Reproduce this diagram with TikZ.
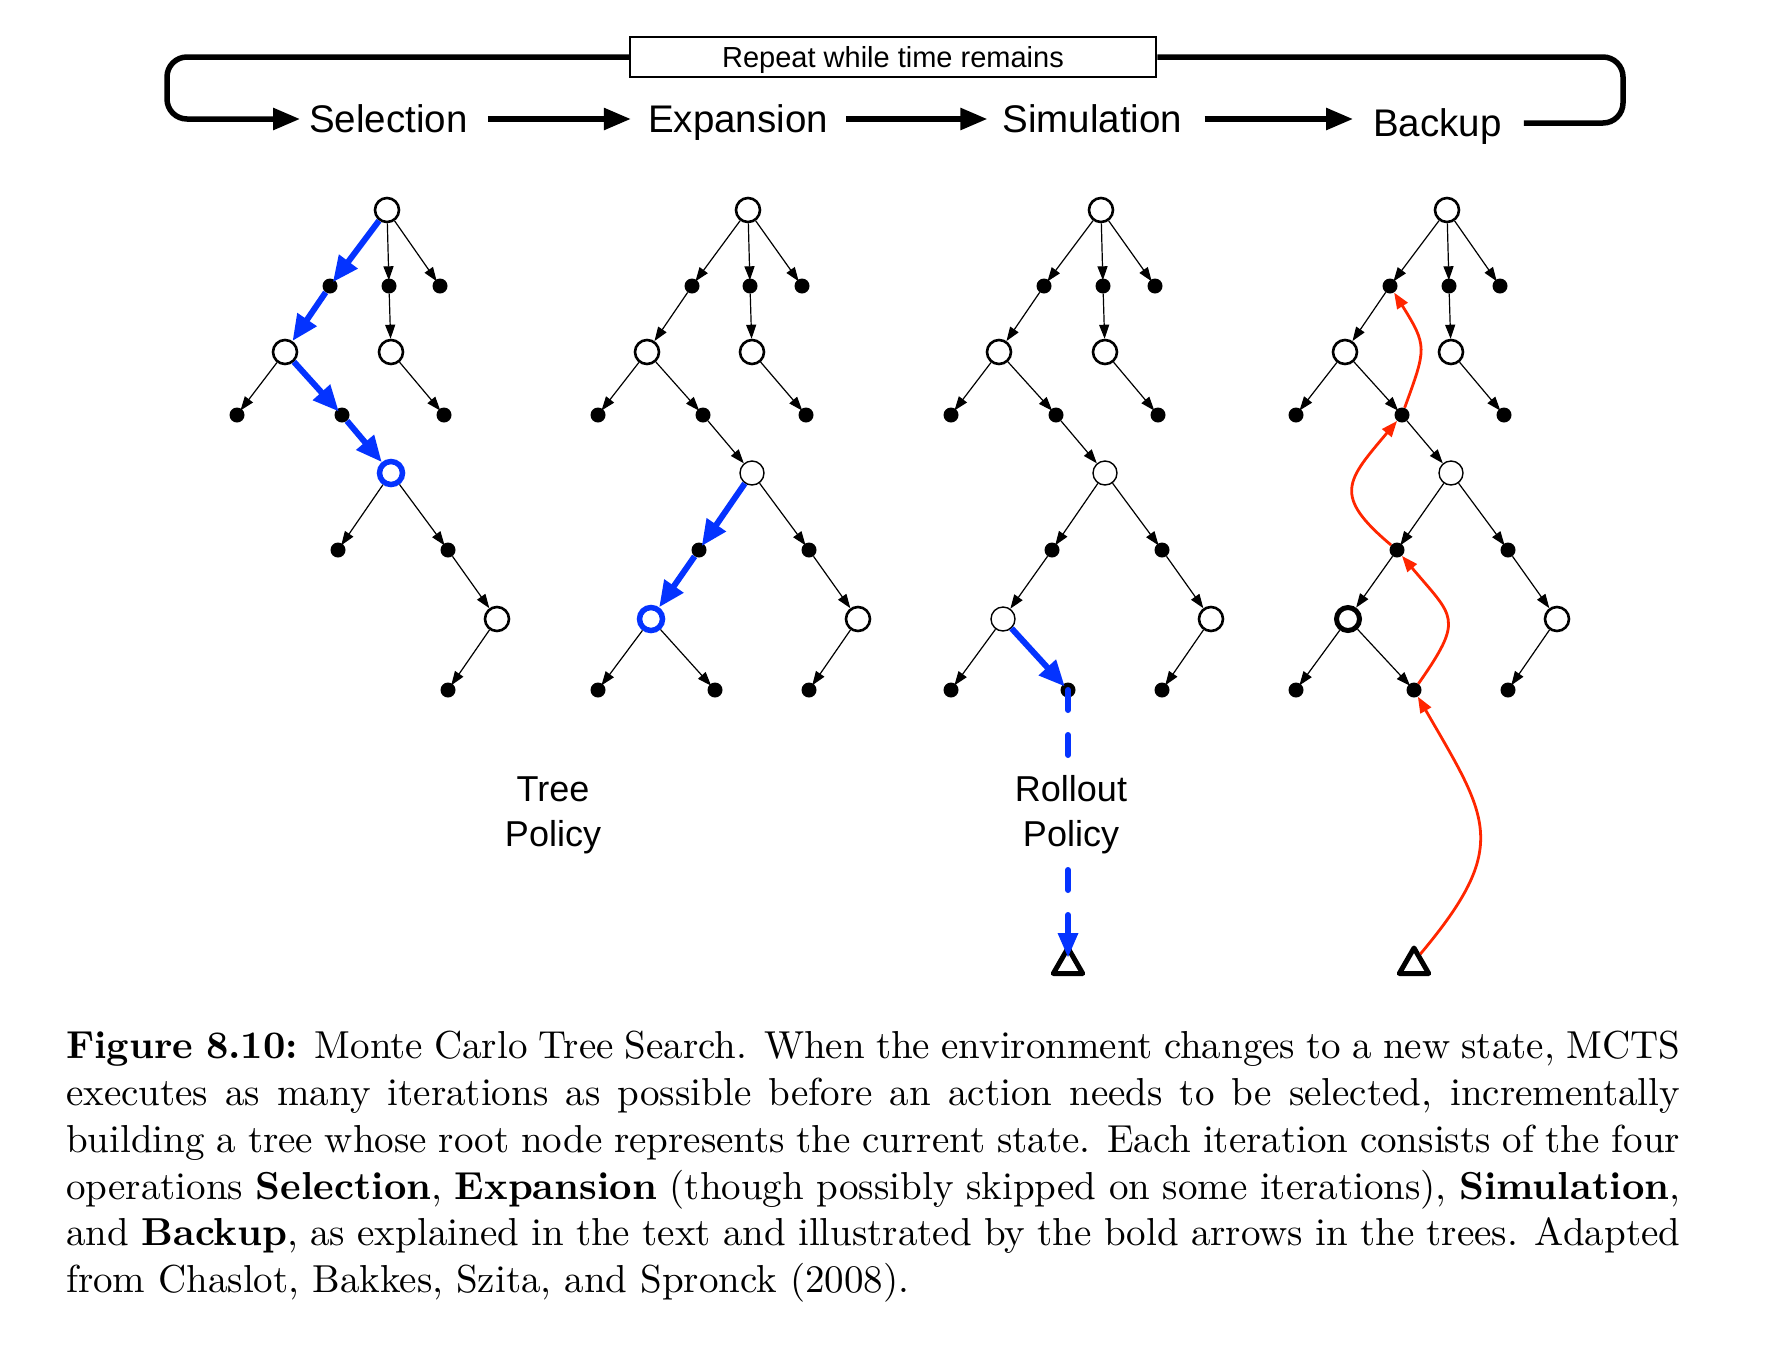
\documentclass[tikz,border=0pt]{standalone}
\usepackage{fontspec}
\usetikzlibrary{arrows.meta,shapes.geometric}
\newfontfamily\lsans{Liberation Sans}
\newfontfamily\capfont{lmroman10-regular.otf}[BoldFont=lmroman10-bold.otf]
\definecolor{mblue}{HTML}{0433FF}
\definecolor{mred}{HTML}{FF2600}
\begin{document}
\begin{tikzpicture}[x=1pt,y=1pt,
  opn/.style={circle,draw,line width=2.6pt,minimum size=24pt,inner sep=0pt,fill=white},
  thn/.style={opn,line width=1.4pt},
  bln/.style={opn,draw=mblue,line width=5.5pt,minimum size=23pt},
  bdn/.style={opn,line width=5pt,minimum size=23pt},
  dtn/.style={circle,fill=black,minimum size=15pt,inner sep=0pt},
  tri/.style={regular polygon,regular polygon sides=3,draw,line width=5pt,line join=round,minimum size=34pt,inner sep=0pt},
  ed/.style={line width=1.2pt,-{Triangle[length=14pt,width=10pt]}},
  edd/.style={ed,shorten >=-2pt},
  bed/.style={draw=mblue,line width=6pt,-{Triangle[length=26pt,width=22pt,fill=mblue]}},
  bedd/.style={bed,shorten >=-3pt},
  rcurve/.style={draw=mred,line width=2.8pt,-{Triangle[length=16pt,width=12pt,fill=mred]}},
  stage/.style={font=\lsans\fontsize{38.5}{46}\selectfont,inner sep=0pt,text height=27.6pt,text depth=0pt},
  topar/.style={line width=5.5pt,-{Triangle[length=27pt,width=21pt]}},
  pol/.style={font=\lsans\fontsize{36}{45}\selectfont,align=center,inner sep=2pt}
]
\fill[white] (0,0) rectangle (1780,-1358);
\path[use as bounding box] (0,0) rectangle (1780,-1358);

% ---------- top loop ----------
\node[draw,line width=2.5pt,fill=white,minimum width=526pt,minimum height=40pt,inner sep=0pt,
      text height=20.8pt,text depth=0pt,
      font=\lsans\fontsize{29}{34}\selectfont] (rep) at (893,-57) {Repeat while time remains};
\node[stage] (sel) at (388.5,-119) {Selection};
\node[stage] (exp) at (738,-119) {Expansion};
\node[stage] (sim) at (1092.5,-119) {Simulation};
\node[stage] (bak) at (1437.5,-123) {Backup};
\coordinate (lt) at (167,-57);
\coordinate (lb) at (167,-119);
\coordinate (rt) at (1623,-57);
\coordinate (rb) at (1623,-123);
\draw[topar,rounded corners=20pt,shorten >=9pt] (rep.west) -- (lt) -- (lb) -- (sel.west);
\draw[line width=5.5pt,rounded corners=20pt,shorten <=22pt] (bak.east) -- (rb) -- (rt) -- (rep.east);
\draw[topar,shorten <=20pt,shorten >=17pt] (sel.east) -- (exp.west);
\draw[topar,shorten <=18pt,shorten >=15pt] (exp.east) -- (sim.west);
\draw[topar,shorten <=22pt,shorten >=20pt] (sim.east) -- (sim.east -| bak.west);

% ---------- tree 1 (Selection) ----------
\node[opn] (A0) at (387,-210) {};
\node[dtn] (A1a) at (330,-286) {};
\node[dtn] (A1b) at (389,-286) {};
\node[dtn] (A1c) at (440,-286) {};
\node[opn] (A2a) at (285,-352) {};
\node[opn] (A2b) at (391,-352) {};
\node[dtn] (A3a) at (237,-415) {};
\node[dtn] (A3b) at (342,-415) {};
\node[dtn] (A3c) at (444,-415) {};
\node[bln] (A4) at (391,-473) {};
\node[dtn] (A5a) at (338,-550) {};
\node[dtn] (A5b) at (448,-550) {};
\node[opn] (A6b) at (497,-619) {};
\node[dtn] (A7c) at (448,-690) {};

% ---------- tree 2 (Expansion) ----------
\node[opn] (B0) at (748,-210) {};
\node[dtn] (B1a) at (692,-286) {};
\node[dtn] (B1b) at (750,-286) {};
\node[dtn] (B1c) at (802,-286) {};
\node[opn] (B2a) at (647,-352) {};
\node[opn] (B2b) at (752,-352) {};
\node[dtn] (B3a) at (598,-415) {};
\node[dtn] (B3b) at (703,-415) {};
\node[dtn] (B3c) at (806,-415) {};
\node[thn] (B4) at (752,-473) {};
\node[dtn] (B5a) at (699,-550) {};
\node[dtn] (B5b) at (809,-550) {};
\node[bln] (B6a) at (651,-619) {};
\node[opn] (B6b) at (858,-619) {};
\node[dtn] (B7a) at (598,-690) {};
\node[dtn] (B7b) at (715,-690) {};
\node[dtn] (B7c) at (809,-690) {};

% ---------- tree 3 (Simulation) ----------
\node[opn] (C0) at (1101,-210) {};
\node[dtn] (C1a) at (1044,-286) {};
\node[dtn] (C1b) at (1103,-286) {};
\node[dtn] (C1c) at (1155,-286) {};
\node[opn] (C2a) at (999,-352) {};
\node[opn] (C2b) at (1105,-352) {};
\node[dtn] (C3a) at (951,-415) {};
\node[dtn] (C3b) at (1056,-415) {};
\node[dtn] (C3c) at (1158,-415) {};
\node[thn] (C4) at (1105,-473) {};
\node[dtn] (C5a) at (1052,-550) {};
\node[dtn] (C5b) at (1162,-550) {};
\node[thn] (C6a) at (1003,-619) {};
\node[opn] (C6b) at (1211,-619) {};
\node[dtn] (C7a) at (951,-690) {};
\node[dtn] (C7b) at (1068,-690) {};
\node[dtn] (C7c) at (1162,-690) {};
\node[tri] (Ct) at (1068,-965) {};

% ---------- tree 4 (Backup) ----------
\node[opn] (D0) at (1447,-210) {};
\node[dtn] (D1a) at (1390,-286) {};
\node[dtn] (D1b) at (1449,-286) {};
\node[dtn] (D1c) at (1500,-286) {};
\node[opn] (D2a) at (1345,-352) {};
\node[opn] (D2b) at (1451,-352) {};
\node[dtn] (D3a) at (1296,-415) {};
\node[dtn] (D3b) at (1402,-415) {};
\node[dtn] (D3c) at (1504,-415) {};
\node[thn] (D4) at (1451,-473) {};
\node[dtn] (D5a) at (1397,-550) {};
\node[dtn] (D5b) at (1508,-550) {};
\node[bdn] (D6a) at (1348,-619) {};
\node[opn] (D6b) at (1557,-619) {};
\node[dtn] (D7a) at (1296,-690) {};
\node[dtn] (D7b) at (1414,-690) {};
\node[dtn] (D7c) at (1508,-690) {};
\node[tri] (Dt) at (1414,-965) {};

% ---------- black edges ----------
\foreach \s/\t in {A0/A1b,A0/A1c,A2a/A3a,A2b/A3c,A4/A5a,A4/A5b,A6b/A7c}
  \draw[edd] (\s) -- (\t);
\foreach \s/\t in {A1b/A2b,A5b/A6b}
  \draw[ed] (\s) -- (\t);
\foreach \T in {B,C,D}{
  \foreach \s/\t in {0/1a,0/1b,0/1c,2a/3a,2a/3b,2b/3c,4/5b,6a/7a,6b/7c}
    \draw[edd] (\T\s) -- (\T\t);
  \foreach \s/\t in {1a/2a,1b/2b,3b/4,5b/6b}
    \draw[ed] (\T\s) -- (\T\t);
}
\foreach \s/\t in {C4/C5a,D4/D5a,B6a/B7b,D6a/D7b}
  \draw[edd] (\s) -- (\t);
\foreach \s/\t in {C5a/C6a,D5a/D6a}
  \draw[ed] (\s) -- (\t);

% ---------- blue (bold) arrows ----------
\draw[bedd] (A0) -- (A1a);
\draw[bed] (A1a) -- (A2a);
\draw[bedd] (A2a) -- (A3b);
\draw[bed] (A3b) -- (A4);
\draw[bedd] (B4) -- (B5a);
\draw[bed] (B5a) -- (B6a);
\draw[bedd] (C6a) -- (C7b);
\draw[mblue,line width=6pt,line cap=round,dash pattern=on 20pt off 25pt,
      -{Triangle[length=25pt,width=19pt,fill=mblue]},shorten >=7pt] (C7b.center) -- (Ct.center);

% ---------- red backup arrows ----------
\draw[rcurve] (Dt.60) to[out=50,in=-60,looseness=1.4] (D7b);
\draw[rcurve] (D7b) to[out=55,in=-50,looseness=1.6] (D5a);
\draw[rcurve] (D5a) to[out=140,in=-130,looseness=1.6] (D3b);
\draw[rcurve] (D3b) to[out=70,in=-58,looseness=1.4] (D1a);

% ---------- policy labels ----------
\node[pol] (tp) at (553,-815) {Tree\\Policy};
\node[pol,fill=white] (rp) at (1071,-815) {Rollout\\Policy};

% ---------- caption ----------
\node[anchor=north west,inner sep=0pt,text width=1614pt,align=justify,
      font=\capfont\fontsize{39}{46.8}\selectfont] (cap) at (66,-1031)
{\noindent\textbf{Figure 8.10:} Monte Carlo Tree Search. When the environment changes to a new state, MCTS\linebreak
executes as many iterations as possible before an action needs to be selected, incrementally\linebreak
building a tree whose root node represents the current state. Each iteration consists of the four\linebreak
operations \textbf{Selection}, \textbf{Expansion} (though possibly skipped on some iterations), \textbf{Simulation},\linebreak
and \textbf{Backup}, as explained in the text and illustrated by the bold arrows in the trees. Adapted\linebreak
from Chaslot, Bakkes, Szita, and Spronck (2008).};
\end{tikzpicture}
\end{document}
